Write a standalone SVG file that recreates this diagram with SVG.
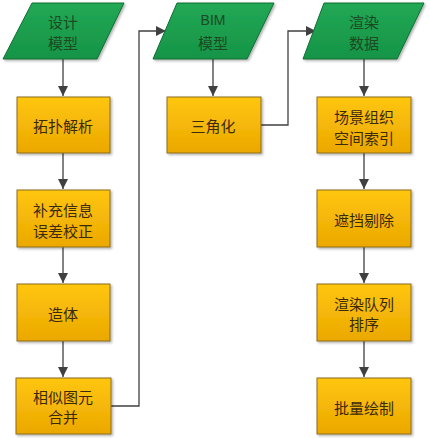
<svg xmlns="http://www.w3.org/2000/svg" width="430" height="439" viewBox="0 0 430 439">
<defs>
<linearGradient id="gg" x1="0" y1="0" x2="0" y2="1"><stop offset="0" stop-color="#22a855"/><stop offset="1" stop-color="#169447"/></linearGradient>
<linearGradient id="og" x1="0" y1="0" x2="0" y2="1"><stop offset="0" stop-color="#ffc610"/><stop offset="1" stop-color="#eba800"/></linearGradient>
<filter id="sh" x="-10%" y="-10%" width="130%" height="130%"><feDropShadow dx="1.5" dy="1.5" stdDeviation="1.2" flood-color="#000" flood-opacity="0.3"/></filter>
<marker id="ah" viewBox="0 0 10 10" refX="10" refY="5" markerWidth="10" markerHeight="10" markerUnits="userSpaceOnUse" orient="auto"><path d="M0,0 L10,5 L0,10 Z" fill="#404040"/></marker>
</defs>
<style>
.io{fill:url(#gg);stroke:#0f6e33;stroke-width:1;filter:url(#sh)}
.bx{fill:url(#og);stroke:#8c6d1f;stroke-width:1;filter:url(#sh)}
.t{font-family:"Noto Sans CJK SC","Liberation Sans",sans-serif;font-size:15px;text-anchor:middle;dominant-baseline:central}
.tg{fill:#1c4a22}
.to{fill:#3b2a0c}
.c{fill:none;stroke:#404040;stroke-width:1.3;marker-end:url(#ah)}
</style>
<rect width="430" height="439" fill="#ffffff"/>
<g id="connectors">
<path class="c" d="M63,59 V96"/>
<path class="c" d="M63,153 V189"/>
<path class="c" d="M63,247 V283"/>
<path class="c" d="M63,341 V377"/>
<path class="c" d="M111,406 H139 V31 H166"/>
<path class="c" d="M213,59 V96"/>
<path class="c" d="M261,125 H288 V31 H316"/>
<path class="c" d="M364,59 V96"/>
<path class="c" d="M364,153 V189"/>
<path class="c" d="M364,247 V283"/>
<path class="c" d="M364,341 V377"/>
</g>
<g id="n1"><polygon class="io" points="32,3 124,3 97,59 3,59"/><text class="t tg" x="63" y="21">设计</text><text class="t tg" x="63" y="42">模型</text></g>
<g id="n2"><rect class="bx" x="17" y="97" width="93" height="56"/><text class="t to" x="63" y="125">拓扑解析</text></g>
<g id="n3"><rect class="bx" x="17" y="190" width="93" height="57"/><text class="t to" x="63" y="209">补充信息</text><text class="t to" x="63" y="230">误差校正</text></g>
<g id="n4"><rect class="bx" x="17" y="284" width="93" height="57"/><text class="t to" x="63" y="313">造体</text></g>
<g id="n5"><rect class="bx" x="16" y="378" width="95" height="56"/><text class="t to" x="63" y="396">相似图元</text><text class="t to" x="63" y="416">合并</text></g>
<g id="n6"><polygon class="io" points="177,3 274,3 247,59 153,59"/><text class="t tg" x="213" y="20" style="font-family:'Liberation Sans',sans-serif;font-size:14px">BIM</text><text class="t tg" x="213" y="42">模型</text></g>
<g id="n7"><rect class="bx" x="167" y="97" width="94" height="56"/><text class="t to" x="213" y="125">三角化</text></g>
<g id="n8"><polygon class="io" points="324,3 424,3 397,59 303,59"/><text class="t tg" x="364" y="21">渲染</text><text class="t tg" x="364" y="42">数据</text></g>
<g id="n9"><rect class="bx" x="317" y="97" width="94" height="56"/><text class="t to" x="364" y="116">场景组织</text><text class="t to" x="364" y="137">空间索引</text></g>
<g id="n10"><rect class="bx" x="317" y="190" width="94" height="57"/><text class="t to" x="364" y="219">遮挡剔除</text></g>
<g id="n11"><rect class="bx" x="317" y="284" width="94" height="57"/><text class="t to" x="364" y="303">渲染队列</text><text class="t to" x="364" y="323">排序</text></g>
<g id="n12"><rect class="bx" x="317" y="378" width="94" height="56"/><text class="t to" x="364" y="407">批量绘制</text></g>
</svg>
